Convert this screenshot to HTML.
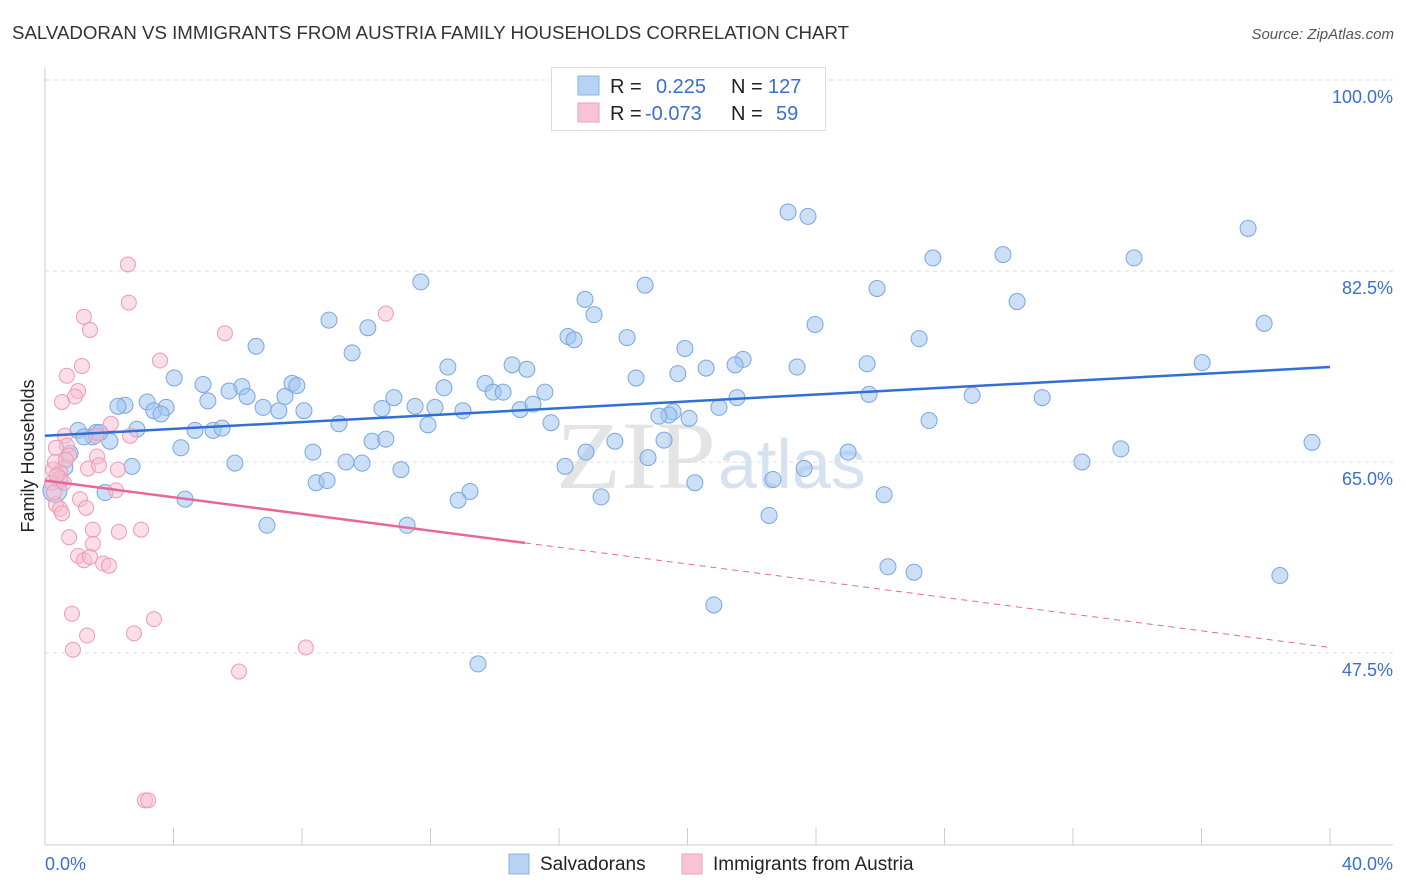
<!DOCTYPE html>
<html><head><meta charset="utf-8"><style>
body{margin:0;background:#fff;font-family:"Liberation Sans",sans-serif;}
#wrap{position:relative;width:1406px;height:892px;overflow:hidden;}
</style></head><body>
<div id="wrap">
<svg id="svg" width="1406" height="892" xmlns="http://www.w3.org/2000/svg">
<text x="12" y="39" font-size="18" fill="#333" textLength="837" lengthAdjust="spacingAndGlyphs">SALVADORAN VS IMMIGRANTS FROM AUSTRIA FAMILY HOUSEHOLDS CORRELATION CHART</text>
<text x="1394" y="39" font-size="15" fill="#555" font-style="italic" text-anchor="end">Source: ZipAtlas.com</text>
<text x="716" y="488" font-size="96" fill="#e4e4e4" font-family="Liberation Serif,serif" text-anchor="end" textLength="160" lengthAdjust="spacingAndGlyphs">ZIP</text>
<text x="718" y="488" font-size="70" fill="#d6e2f2" text-anchor="start">atlas</text>
<g id="grid"></g>
<g id="axes"></g>
<g id="marks"></g>
<text transform="translate(34,456) rotate(-90)" font-size="18" fill="#222" text-anchor="middle">Family Households</text>
<g>
<rect x="551.5" y="67.5" width="274" height="63" fill="#fff" stroke="#ddd"/>
<rect x="578" y="76" width="21" height="19" fill="#b8d2f4" stroke="#8ab0e6"/>
<rect x="578" y="103" width="21" height="19" fill="#f8c4d4" stroke="#ee9fb8"/>
<text x="610" y="93" font-size="20" fill="#222">R =</text>
<text x="656" y="93" font-size="20" fill="#3a6fd0">0.225</text>
<text x="731" y="93" font-size="20" fill="#222">N =</text>
<text x="768" y="93" font-size="20" fill="#3a6fd0">127</text>
<text x="610" y="120" font-size="20" fill="#222">R =</text>
<text x="645" y="120" font-size="20" fill="#3a6fd0">-0.073</text>
<text x="731" y="120" font-size="20" fill="#222">N =</text>
<text x="776" y="120" font-size="20" fill="#3a6fd0">59</text>
</g>
<g>
<rect x="509" y="854" width="20" height="20" fill="#b8d2f4" stroke="#8ab0e6"/>
<text x="540" y="870" font-size="19" fill="#222">Salvadorans</text>
<rect x="682" y="854" width="20" height="20" fill="#f8c4d4" stroke="#ee9fb8"/>
<text x="713" y="870" font-size="19" fill="#222">Immigrants from Austria</text>
</g>
</svg>
</div>
<script>
const blueX=[23.13,23.75,37.45,27.64,29.82,33.90,11.70,18.68,25.90,16.81,30.26,17.09,8.84,23.97,37.95,10.05,16.28,16.47,18.12,27.21,6.57,9.56,19.92,36.02,12.54,14.54,4.02,21.73,21.48,20.58,23.41,25.59,15.00,19.70,18.40,7.69,7.84,4.92,6.13,12.42,13.70,5.73,13.95,14.26,15.56,25.65,28.86,31.04,21.54,10.86,5.07,6.29,7.47,3.18,2.49,2.27,3.39,3.77,3.61,6.79,7.28,8.06,10.49,11.52,12.14,13.01,14.79,15.19,19.55,19.42,19.11,20.98,20.05,9.15,11.92,15.75,27.52,2.86,4.67,5.23,5.51,1.03,1.49,1.59,2.02,4.23,10.18,10.61,17.74,19.27,39.44,33.49,16.84,25.00,8.34,18.77,5.91,9.37,9.87,2.71,11.08,16.19,23.63,22.66,8.44,8.78,20.23,13.23,12.86,4.36,1.87,17.31,26.12,22.54,6.91,11.27,32.28,26.24,27.05,38.44,20.82,13.48,0.62,0.47,0.31,1.21,1.71,0.78];
const blueY=[87.9,87.5,86.4,83.7,84.0,83.7,81.5,81.2,80.9,79.9,79.7,78.5,78.0,77.6,77.7,77.3,76.5,76.2,76.4,76.3,75.6,75.0,75.4,74.1,73.7,73.9,72.7,74.4,73.9,73.6,73.7,74.0,73.5,73.1,72.7,72.2,72.0,72.1,71.9,71.8,72.2,71.5,71.4,71.4,71.4,71.2,71.1,70.9,70.9,70.9,70.6,71.0,71.0,70.5,70.2,70.1,69.7,70.0,69.4,70.0,69.7,69.7,69.9,70.1,70.0,69.7,69.8,70.3,69.6,69.3,69.2,70.0,69.0,68.5,68.4,68.6,68.8,68.0,67.9,67.9,68.1,67.9,67.3,67.7,66.9,66.3,66.9,67.1,66.9,67.0,66.8,66.2,65.9,65.9,65.9,65.4,64.9,65.0,64.9,64.6,64.3,64.6,64.4,63.4,63.1,63.3,63.1,62.3,61.5,61.6,62.2,61.8,62.0,60.1,59.2,59.2,65.0,55.4,54.9,54.6,51.9,46.5,64.5,63.3,62.4,67.3,67.7,65.8];
const pinkX=[2.58,2.61,1.21,1.40,10.61,5.60,3.58,1.15,0.68,1.03,0.93,0.53,2.05,0.62,2.65,1.59,0.68,0.34,0.75,1.62,1.34,1.68,0.47,2.27,0.25,2.21,1.09,0.34,0.47,1.28,0.53,1.49,2.30,2.99,0.75,1.49,1.03,1.21,1.40,1.81,1.99,0.84,3.39,1.31,2.77,0.87,8.12,6.04,3.11,3.21,0.31,0.47,0.22,0.28,0.65,0.59,0.37];
const pinkY=[83.1,79.6,78.3,77.1,78.6,76.8,74.3,73.8,72.9,71.5,71.0,70.5,68.5,67.4,67.4,67.4,66.5,66.3,65.6,65.5,64.4,64.7,64.1,64.3,64.3,62.4,61.6,61.1,60.7,60.8,60.3,58.8,58.6,58.8,58.1,57.5,56.4,56.0,56.3,55.7,55.5,51.1,50.6,49.1,49.3,47.8,48.0,45.8,34.0,34.0,65.0,63.5,63.1,62.2,65.2,63.1,63.8];
const blueTrend=[67.4,73.7];
const pinkTrend=[63.3,48.0];
const pinkSolidEnd=14.94;
const yTicks=[100,82.5,65,47.5];
const yTickLabels=["100.0%","82.5%","65.0%","47.5%"];
const xTicks=[0,4,8,12,16,20,24,28,32,36,40];

const NS="http://www.w3.org/2000/svg";
const X=v=>45+v*32.125;
const Y=v=>80+(100-v)*10.914;
function mk(tag,attrs,parent){const e=document.createElementNS(NS,tag);for(const k in attrs)e.setAttribute(k,attrs[k]);document.getElementById(parent).appendChild(e);return e;}

yTicks.forEach((t,i)=>{
  const l=mk('line',{x1:45,x2:1393,y1:Y(t),y2:Y(t),stroke:'#ddd','stroke-dasharray':'4,4'},'grid');
  
  
  const tx=mk('text',{x:1393,y:Y(t)+23,'font-size':18,fill:'#3a6fd0','text-anchor':'end'},'axes');
  tx.textContent=yTickLabels[i];
  
  
});
const ax=mk('line',{x1:45,x2:45,y1:68,y2:845,stroke:'#ccc'},'axes');


const bx=mk('line',{x1:45,x2:1393,y1:845,y2:845,stroke:'#ccc'},'axes');


xTicks.forEach(t=>{
  if(t===0)return;
  const l=mk('line',{x1:X(t),x2:X(t),y1:828,y2:845,stroke:'#ccc'},'axes');
  
  
});
const xl0=mk('text',{x:45,y:870,'font-size':18,fill:'#3a6fd0'},'axes');
xl0.textContent=xTicks[0].toFixed(1)+'%';


const xl1=mk('text',{x:1393,y:870,'font-size':18,fill:'#3a6fd0','text-anchor':'end'},'axes');
xl1.textContent=xTicks[xTicks.length-1].toFixed(1)+'%';



blueX.forEach((x,i)=>{
  const c=mk('circle',{cx:X(x),cy:Y(blueY[i]),r:(x<0.5&&blueY[i]<63)?12:8,fill:'rgba(160,196,240,0.55)',stroke:'#7aa6e0','stroke-width':1},'marks');
  
  
});
pinkX.forEach((x,i)=>{
  const c=mk('circle',{cx:X(x),cy:Y(pinkY[i]),r:7.5,fill:'rgba(248,190,208,0.5)',stroke:'#ee9ab6','stroke-width':1},'marks');
  
  
});
const bt=mk('line',{x1:X(0),y1:Y(blueTrend[0]),x2:X(40),y2:Y(blueTrend[1]),stroke:'#2f6fd6','stroke-width':2.5},'marks');


const py=x=>pinkTrend[0]+(pinkTrend[1]-pinkTrend[0])*x/40;
const ps=mk('line',{x1:X(0),y1:Y(py(0)),x2:X(pinkSolidEnd),y2:Y(py(pinkSolidEnd)),stroke:'#e8679a','stroke-width':2.5},'marks');


const pd=mk('line',{x1:X(pinkSolidEnd),y1:Y(py(pinkSolidEnd)),x2:X(40),y2:Y(py(40)),stroke:'#e8679a','stroke-width':1,'stroke-dasharray':'6,5'},'marks');


</script>
</body></html>
